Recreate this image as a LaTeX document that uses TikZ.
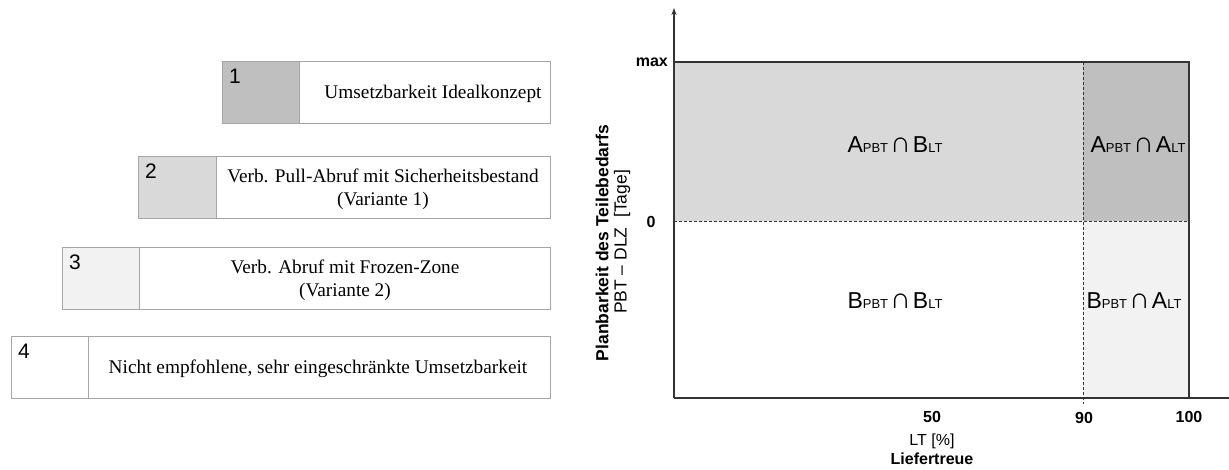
\documentclass[tikz,border=0pt]{standalone}
\usepackage{fontspec}
\setmainfont{Liberation Serif}
\setsansfont{Liberation Sans}
\usetikzlibrary{arrows.meta}

\definecolor{grA}{HTML}{BFBFBF}
\definecolor{grB}{HTML}{D9D9D9}
\definecolor{grC}{HTML}{F2F2F2}
\definecolor{boxline}{HTML}{A6A6A6}
\definecolor{axisline}{HTML}{333333}

% set symbol with small upright index letters: A_{PBT} \cap B_{LT}
\newcommand{\idx}[1]{{\fontsize{13}{13}\selectfont #1}}
\newcommand{\capsym}{{\fontsize{29}{29}\selectfont ∩}}
\newcommand{\setcut}[4]{#1\idx{#2}\kern2pt\capsym\kern2pt#3\idx{#4}}

\tikzset{
  tagcell/.style={draw=boxline, line width=1.4pt, anchor=north west,
    minimum height=62pt, inner sep=0pt},
  textcell/.style={draw=boxline, line width=1.4pt, fill=white, anchor=north west,
    minimum height=62pt, inner sep=0pt},
  numlabel/.style={font=\sffamily\fontsize{21}{21}\selectfont, inner sep=0pt},
  boxtext/.style={font=\fontsize{19.3}{23}\selectfont, align=center, inner sep=0pt},
  region/.style={font=\sffamily\fontsize{23}{23}\selectfont, inner sep=0pt},
  tick/.style={font=\sffamily\bfseries\fontsize{16}{16}\selectfont, inner sep=0pt},
  axistext/.style={font=\sffamily\fontsize{16}{18}\selectfont, inner sep=0pt},
  ytext/.style={font=\sffamily\fontsize{17.5}{19}\selectfont, inner sep=0pt, rotate=90},
  chartline/.style={draw=axisline, line width=1.2pt},
  divider/.style={draw=axisline, line width=0.9pt, dash pattern=on 3pt off 2pt},
}

\begin{document}
\begin{tikzpicture}[x=1pt, y=-1pt]
\useasboundingbox (0,0) rectangle (1229,470);

% ---------- legend boxes ----------
\node[textcell, minimum width=251pt] (t1) at (299,61) {};
\node[tagcell, fill=grA, minimum width=77pt] (c1) at (222,61) {};
\node[numlabel] (n1) at (235,76) {1};
\node[boxtext] (l1) at (433,94) {Umsetzbarkeit Idealkonzept};

\node[textcell, minimum width=334pt] (t2) at (216,156) {};
\node[tagcell, fill=grB, minimum width=78pt] (c2) at (138,156) {};
\node[numlabel] (n2) at (151,171) {2};
\node[boxtext] (l2) at (383,189) {Verb. Pull-Abruf mit Sicherheitsbestand\\(Variante 1)};

\node[textcell, minimum width=411pt] (t3) at (139,247) {};
\node[tagcell, fill=grC, minimum width=77pt] (c3) at (62,247) {};
\node[numlabel] (n3) at (75,262) {3};
\node[boxtext] (l3) at (345,280) {Verb. Abruf mit Frozen-Zone\\(Variante 2)};

\node[textcell, minimum width=462pt] (t4) at (88,336) {};
\node[tagcell, fill=white, minimum width=77pt] (c4) at (11,336) {};
\node[numlabel] (n4) at (24,351) {4};
\node[boxtext] (l4) at (318,369) {Nicht empfohlene, sehr eingeschränkte Umsetzbarkeit};

% ---------- portfolio chart ----------
\coordinate (O) at (674,398);
\coordinate (ytop) at (674,8);
\coordinate (xend) at (1229,398);
\coordinate (max) at (674,62);
\coordinate (zero) at (674,221);
\coordinate (mx) at (1189,62);
\coordinate (zx) at (1189,221);
\coordinate (rb) at (1189,398);
\coordinate (d90t) at (1083,62);
\coordinate (d90b) at (1083,404);

\fill[grB] (max) rectangle (1083,221);
\fill[grA] (d90t) rectangle (zx);
\fill[grC] (1083,221) rectangle (rb);

\draw[divider] (zero) -- (zx);
\draw[divider] (d90t) -- (d90b);
\draw[chartline] (max) -- (mx) -- (rb);
\draw[chartline, -{Stealth[length=7pt, width=5pt]}] (O) -- (ytop);
\draw[chartline] (O) -- (xend);

\node[region] (ab) at (895,145) {\setcut{A}{PBT}{B}{LT}};
\node[region] (aa) at (1138,145) {\setcut{A}{PBT}{A}{LT}};
\node[region] (bb) at (895,301) {\setcut{B}{PBT}{B}{LT}};
\node[region] (ba) at (1134,301) {\setcut{B}{PBT}{A}{LT}};

\node[tick, anchor=east] (lmax) at (668,62) {max};
\node[tick] (l0) at (651,222) {0};
\node[tick] (l50) at (932,417) {50};
\node[tick] (l90) at (1084,418) {90};
\node[tick] (l100) at (1189,417) {100};

\node[axistext] (xu) at (932,441) {LT [\%]};
\node[axistext, font=\sffamily\bfseries\fontsize{16}{18}\selectfont] (xn) at (932,459) {Liefertreue};

\node[ytext, font=\sffamily\bfseries\fontsize{17.5}{19}\selectfont] (yn) at (602,243) {Planbarkeit des Teilebedarfs};
\node[ytext] (yu) at (622,242) {PBT – DLZ\ \ [Tage]};
\end{tikzpicture}
\end{document}
